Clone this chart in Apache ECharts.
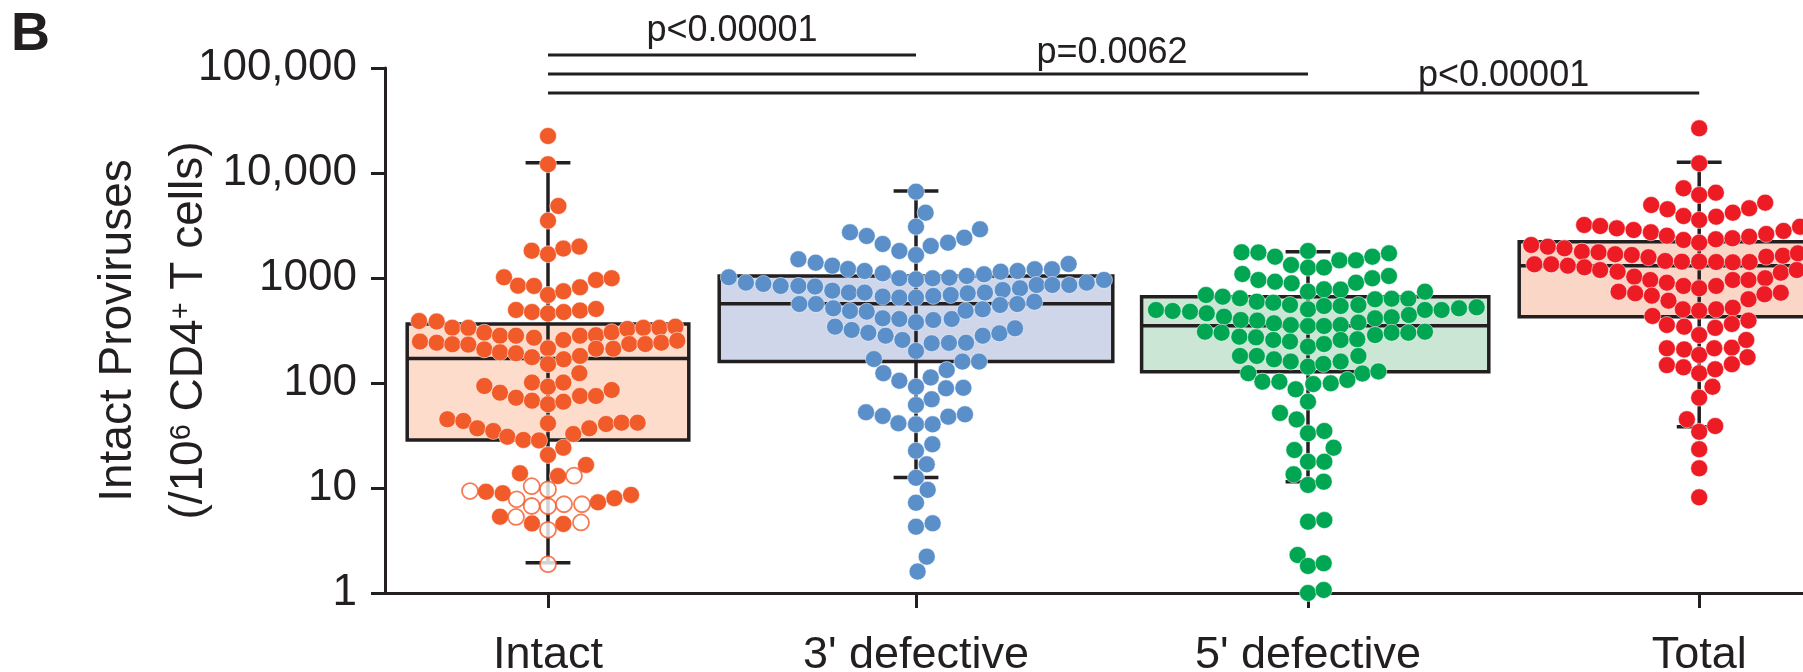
<!DOCTYPE html>
<html><head><meta charset="utf-8">
<script src="https://cdn.jsdelivr.net/npm/echarts@6/dist/echarts.min.js"></script>
<style>html,body{margin:0;padding:0;background:#fff}#c{width:1803px;height:672px}</style>
</head><body><div id="c"></div>
<script>
// ---------------- data ----------------
const categories = ['Intact', "3' defective", "5' defective", 'Total'];
const yTickLabels = ['1', '10', '100', '1000', '10,000', '100,000'];
const yTitleLines = ['Intact Proviruses', '(/10{sup|6} CD4{sup|+} T cells)'];
// [lower whisker, Q1, median, Q3, upper whisker]
const boxStats = [
  [1.94, 28.7, 171, 365, 12540],
  [12.6, 160, 569, 1045, 6740],
  [11.5, 128, 351, 664, 1782],
  [38.4, 428, 1309, 2218, 12650]
];
// each point: [swarm offset (dot widths), proviruses per 10^6 CD4+ T cells]
const intactFilled = [
  [0,22500],[0,12100],[0.65,4850],[0,3515],
  [-1.02,1820],[0,1683],[0.96,1906],[1.96,1990],
  [-2.75,1015],[-1.875,845],[-0.875,840],[0,689],[0.96,747],[2,815],[3,957],[3.98,994],
  [-2,496],[-1,474],[0,460],[0.98,474],[2,490],[3,507],
  [-8.06,389],[-6.96,385],[-5.98,336],[-4.98,335],[-3.98,301],[-3,282],[-2,282],[-0.875,270],[0.96,257],[2,282],[3,285],[3.98,304],[4.96,327],[5.96,335],[6.96,335],[7.96,344],
  [-8,248],[-6.96,242],[-5.98,234],[-4.98,232],[-3.98,209],[-3,196],[-2,192],[-1,176],[0,214],[0.98,168],[2,181],[3,212],[4.08,212],[5.08,235],[6.08,235],[7.08,242],[8.08,253],
  [0,151],[1.96,124],
  [-3.98,93.6],[-3,80.9],[-2,72.4],[-1,101],[-1,67.9],[0,92.2],[0,62.7],[0.96,101],[0.96,66.4],[2,75.2],[3,75.2],[3.98,85.8],
  [-6.29,45.1],[-5.29,43.5],[-4.42,37],[-3.42,34.9],[-2.54,30.8],[-1.54,28.7],[-0.56,28.4],[0,41.3],[1.58,32.7],[2.58,37],[3.63,40.7],[4.6,41.9],[5.6,41.9],
  [0,20.6],[0.96,24.2],[-1.75,13.8],[0.625,13.0],[2.375,16.6],
  [-3.875,9.2],[-2.83,8.9],[3.125,7.3],[4.15,8.0],[5.19,8.6],
  [-3,5.33],[-1,4.6],[0.96,4.55]
];
const intactOpen = [
  [1.625,13.1],[-1.02,10.4],[0,9.7],[-4.875,9.35],[-1.96,7.8],[-1.02,6.74],[0,6.7],[1,7.0],[2.125,7.0],[-2,5.3],[0,4.0],[2.06,4.7],[0,1.88]
];
const defective3 = [
  [0,6640],[0.6,4190],[0,3080],
  [-4.125,2725],[-3.08,2510],[-2.08,2108],[-1.04,1808],[0,1655],[0.92,2017],[2,2170],[3.02,2422],[4,2910],
  [-7.35,1507],[-6.27,1400],[-5.23,1310],[-4.25,1218],[-3.21,1166],[-2.08,1107],[-1.04,993],[0,971],[1.04,993],[2.08,1007],[3.17,1045],[4.25,1084],[5.29,1148],[6.35,1166],[7.42,1210],[8.5,1210],[9.54,1360],
  [-11.7,1016],[-10.63,903],[-9.54,878],[-8.46,840],[-7.35,840],[-6.31,828],[-5.23,758],[-4.19,726],[-3.21,726],[-2.08,665],[-1.04,651],[0,651],[1.08,675],[2.17,689],[3.23,715],[4.31,726],[5.42,769],[6.5,798],[7.54,858],[8.52,858],[9.58,858],[10.67,903],[11.75,958],
  [-7.29,565],[-6.25,565],[-5.17,514],[-4.125,485],[-3.08,478],[-2.08,413],[-1.04,407],[0,379],[1.08,398],[2.23,407],[3.1,488],[4.17,503],[5.25,553],[6.33,565],[7.4,594],
  [-5.06,344],[-4.02,320],[-2.98,301],[-1.9,282],[-0.85,257],[0,202],[0.98,239],[2.06,241],[3.13,242],[4.17,282],[5.21,297],[6.19,332],
  [-2.63,169],[-2.04,124],[-1.04,105],[0,92],[0.92,113],[1.92,133],[2.9,160],[3.94,160],[1.875,89],[2.96,90],[0.98,70],[0,61.7],
  [-3.125,52.6],[-2.08,48.5],[-1.1,41.3],[0,40.4],[1.04,40.4],[2.02,47.8],[3.06,50.3],
  [1.02,26.1],[0,22.6],[0.67,16.8],[0,12.5],[0.73,9.6],[0,7.24],[0,4.28],[1.04,4.61],[0.67,2.22],[0.1,1.6]
];
const defective5 = [
  [-4.15,1757],[-3.1,1750],[-2.06,1596],[-1.06,1330],[0,1808],[0,1253],[1,1260],[1.96,1472],[3,1472],[4.02,1596],[5.06,1718],
  [-4.1,1092],[-3.1,957],[-2.06,923],[-1.02,890],[0,741],[1,780],[2.04,776],[3,903],[4.02,994],[5.06,1045],
  [-6.375,689],[-5.33,664],[-4.25,640],[-3.2,595],[-2.17,582],[-1.125,553],[0,503],[1,541],[2.04,541],[3.15,553],[4.19,627],[5.23,635],[6.27,635],[7.31,741],
  [-9.5,496],[-8.46,485],[-7.375,478],[-6.33,461],[-5.25,428],[-4.2,398],[-3.17,393],[-2.125,370],[-1.08,356],[0,349],[1,349],[2.04,356],[3.15,376],[4.19,413],[5.23,422],[6.31,444],[7.31,496],[8.35,496],[9.44,514],[10.54,526],
  [-6.44,308],[-5.4,301],[-4.29,276],[-3.25,272],[-2.17,257],[-1.125,248],[0,222],[1,235],[2.04,257],[3.08,261],[4.19,286],[5.23,301],[6.27,301],[7.31,308],
  [-4.25,181],[-3.2,181],[-2.125,168],[-1.08,160],[0,143],[0.96,152],[2.04,160],[3.15,181],[3.4,123],[4.4,129],[-3.73,124],
  [-2.85,103],[-1.79,103],[-0.77,87],[0.33,97.7],[1.42,99.3],[2.46,107],
  [0,66.4],[-1.75,51.8],[-0.71,45],
  [0,33.2],[1.02,34.9],[-0.85,23.0],[1.6,24.2],[0,17.8],[1.02,17.8],[-0.9,13.5],[0,10.7],[0.98,11.5],[0,4.78],[1.02,4.95],[-0.65,2.3],[0,1.81],[0.98,1.92],[0,1.0],[0.98,1.07]
];
const total = [
  [0,26650],[0,12360],[-0.98,7150],[0,6170],[1.04,6500],
  [-3,4960],[-1.98,4510],[-0.98,3890],[0,3565],[1.06,3836],[2.1,4190],[3.125,4615],[4.125,5220],
  [-7.19,3198],[-6.19,3127],[-5.15,2971],[-4.1,2865],[-3.02,2725],[-2.02,2529],[-0.98,2301],[0,2170],[1.04,2335],[2.08,2388],[3.125,2476],[4.19,2625],[5.27,2806],[6.3,3080],
  [-10.5,2062],[-9.46,1986],[-8.42,1917],[-7.33,1782],[-6.29,1757],[-5.25,1683],[-4.21,1657],[-3.17,1574],[-2.125,1452],[-1.08,1432],[0,1432],[1.06,1420],[2.1,1410],[3.15,1420],[4.19,1596],[5.23,1632],[6.17,1718],
  [-10.3,1350],[-9.25,1350],[-8.21,1310],[-7.17,1264],[-6.19,1191],[-5.1,1148],[-4.06,1030],[-3.06,957],[-2.02,903],[-0.98,840],[0,798],[1.06,840],[2.1,957],[3.08,957],[4.125,994],[5.1,1124],[6.1,1191],
  [-5.04,741],[-4,715],[-2.96,679],[-1.92,608],[3.08,627],[4.08,700],[5.1,724],
  [-2.92,435],[-1.02,503],[0,488],[1.06,503],[2.1,521],[-2.02,357],[-0.94,344],[1,335],[2.04,365],[3.08,393],
  [0,286],[-2.02,214],[-0.94,209],[0,185],[0.94,214],[2.04,217],[2.94,257],
  [-2.02,148],[-0.98,141],[0,124],[1,135],[2.04,151],[3.02,176],
  [0.83,92],[0,72.4],[-0.77,45.1],[1,38.9],[0,34.3],[0,23.4],[0,15.4],[0,8.15]
];
const pLabels = ['p<0.00001', 'p=0.0062', 'p<0.00001'];
const pFrom = [0, 0, 0];
const pTo = [1, 2, 3];

// ---------------- layout / style ----------------
const FONT = "'Liberation Sans', Arial, Helvetica, sans-serif";
const INK = '#231F20';
const catX = [0, 23, 47.5, 71.95];          // group centres on the swarm axis
const boxSpan = [[-8.8, 8.8], [-12.3, 12.3], [-10.4, 11.3], [-11.25, 11.25]];
const capHalf = 1.4;
const dotColors = ['#F15A29', '#5A8FCA', '#00A651', '#ED1C24'];
const boxFills = ['#FDDCCB', '#CFD6EA', '#CBE6D5', '#FAD6C7'];
const GRID_LEFT = 385, GRID_TOP = 68, GRID_H = 525, STEP = 16;
const X_MIN = -10.1875, X_MAX = X_MIN + (1803 - GRID_LEFT) / STEP;

const place = (g, arr) => arr.map(p => [catX[g] + p[0], p[1]]);

const chart = echarts.init(document.getElementById('c'), null, {renderer: 'canvas'});

const dotSeries = (name, g, arr, extra) => Object.assign({
  type: 'scatter', name, z: 3,
  symbol: 'circle', symbolSize: 17,
  data: place(g, arr),
  itemStyle: {color: dotColors[g], borderColor: 'rgba(255,255,255,0.65)', borderWidth: 0.8, opacity: 1},
  emphasis: {disabled: true},
  silent: true
}, extra || {});

const option = {
  backgroundColor: '#ffffff',
  animation: false,
  grid: {left: GRID_LEFT, top: GRID_TOP, height: GRID_H, width: 1803 - GRID_LEFT, containLabel: false, outerBoundsMode: 'none'},
  xAxis: {
    type: 'value', min: X_MIN, max: X_MAX,
    splitLine: {show: false},
    axisLine: {show: true, onZero: false, lineStyle: {color: INK, width: 3}},
    axisTick: {show: true, customValues: catX, length: 15, lineStyle: {color: INK, width: 3}},
    axisLabel: {
      show: true, customValues: catX, margin: 40,
      formatter: v => { const i = catX.findIndex(c => Math.abs(c - v) < 1e-6); return i >= 0 ? categories[i] : ''; },
      fontSize: 45, fontFamily: FONT, color: INK
    }
  },
  yAxis: {
    type: 'log', logBase: 10, min: 1, max: 100000, splitNumber: 5,
    splitLine: {show: false},
    minorTick: {show: false},
    axisLine: {show: true, onZero: false, lineStyle: {color: INK, width: 3}},
    axisTick: {show: true, length: 14, lineStyle: {color: INK, width: 3}},
    axisLabel: {
      margin: 28, fontSize: 44, fontFamily: FONT, color: INK,
      formatter: v => yTickLabels[Math.round(Math.log10(v))]
    }
  },
  series: [
    {
      type: 'custom', z: 2, silent: true,
      data: boxStats.map((s, i) => [i, s[0], s[1], s[2], s[3], s[4]]),
      encode: {x: 0, y: 1},
      renderItem: (params, api) => {
        const i = api.value(0);
        const cx = catX[i];
        const lo = api.value(1), q1 = api.value(2), med = api.value(3), q3 = api.value(4), hi = api.value(5);
        const [l, r] = boxSpan[i];
        const tl = api.coord([cx + l, q3]), br = api.coord([cx + r, q1]);
        const mL = api.coord([cx + l, med]), mR = api.coord([cx + r, med]);
        const pLo = api.coord([cx, lo]), pHi = api.coord([cx, hi]);
        const cL = api.coord([cx - capHalf, lo])[0], cR = api.coord([cx + capHalf, lo])[0];
        const st = {stroke: INK, lineWidth: 3.5};
        return {type: 'group', children: [
          {type: 'rect', shape: {x: tl[0], y: tl[1], width: br[0] - tl[0], height: br[1] - tl[1]}, style: {fill: boxFills[i], stroke: INK, lineWidth: 3.5}},
          {type: 'line', shape: {x1: pLo[0], y1: pLo[1], x2: pHi[0], y2: pHi[1]}, style: st},
          {type: 'line', shape: {x1: cL, y1: pLo[1], x2: cR, y2: pLo[1]}, style: st},
          {type: 'line', shape: {x1: cL, y1: pHi[1], x2: cR, y2: pHi[1]}, style: st},
          {type: 'line', shape: {x1: mL[0], y1: mL[1], x2: mR[0], y2: mR[1]}, style: st}
        ]};
      }
    },
    dotSeries('Intact', 0, intactFilled),
    dotSeries('Intact (open)', 0, intactOpen, {symbolSize: 16, itemStyle: {color: '#ffffff', borderColor: dotColors[0], borderWidth: 1.8}}),
    dotSeries("3' defective", 1, defective3),
    dotSeries("5' defective", 2, defective5),
    dotSeries('Total', 3, total)
  ]
};
chart.setOption(option);

// significance brackets placed through the x axis scale, titles
const px = i => chart.convertToPixel({xAxisIndex: 0}, catX[i]);
const lineY = [55, 74, 93];
const textY = [31, 53, 76];
const titleX = [118, 189];
const titleY = GRID_TOP + GRID_H / 2;
const graphics = [{type: 'text', x: 11, y: 8, style: {text: 'B', font: 'bold 54px ' + FONT, fill: INK}}];
yTitleLines.forEach((t, k) => {
  graphics.push({type: 'text', x: titleX[k], y: titleY, rotation: Math.PI / 2,
    style: {text: t, fontSize: 46, fontFamily: FONT, fill: INK, align: 'center', verticalAlign: 'middle',
      rich: {sup: {fontSize: 29, fontFamily: FONT, fill: INK, padding: [0, 0, 14, 0]}}}});
});
pTo.forEach((t, k) => {
  const x1 = px(pFrom[k]), x2 = px(t);
  graphics.push({type: 'line', shape: {x1: x1, y1: lineY[k], x2: x2, y2: lineY[k]}, style: {stroke: INK, lineWidth: 3}});
  graphics.push({type: 'text', x: (px(t - 1) + x2) / 2, y: textY[k],
    style: {text: pLabels[k], font: '36px ' + FONT, fill: INK, align: 'center', verticalAlign: 'middle'}});
});
chart.setOption({graphic: graphics});
</script>
</body></html>
